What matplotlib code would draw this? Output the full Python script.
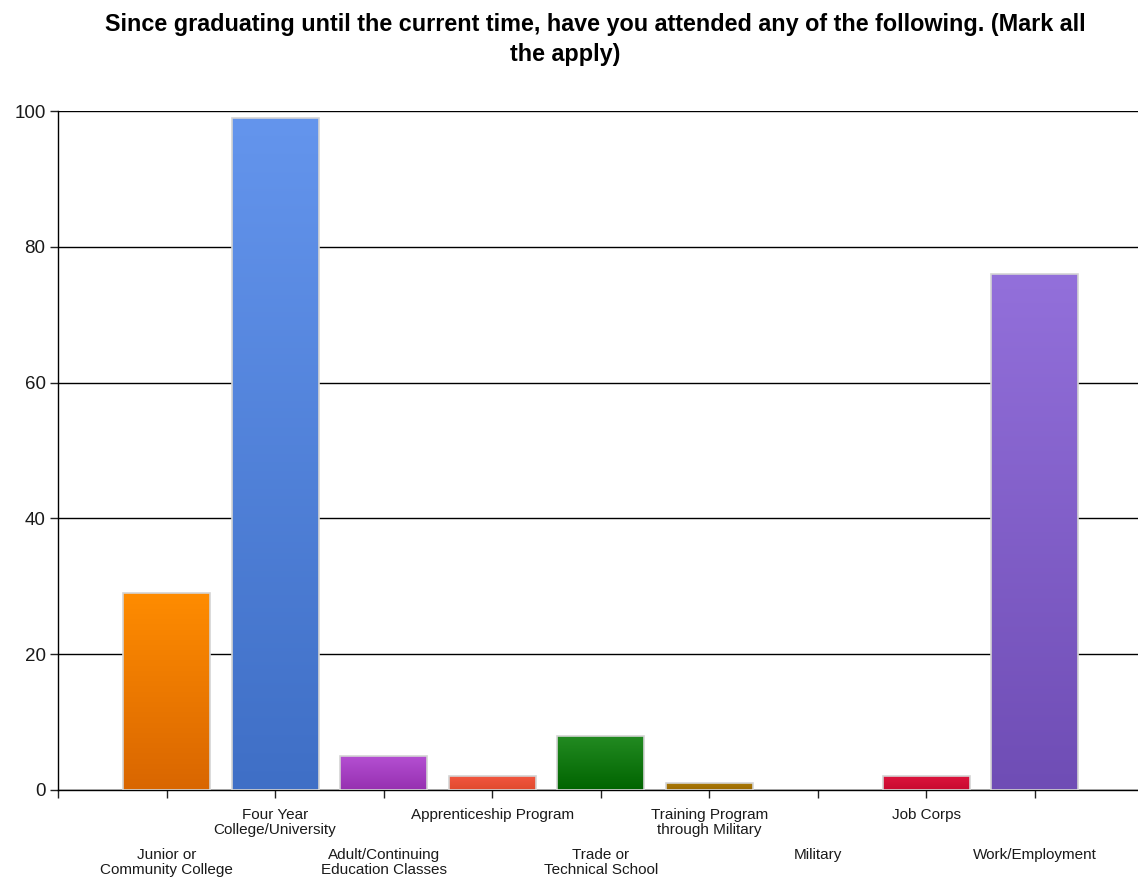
import matplotlib
matplotlib.use("Agg")
import matplotlib.pyplot as plt
import matplotlib.colors as mc
import numpy as np

plt.rcParams['font.family'] = ['Liberation Sans', 'DejaVu Sans']

categories = ["Junior or\nCommunity College", "Four Year\nCollege/University",
              "Adult/Continuing\nEducation Classes", "Apprenticeship Program",
              "Trade or\nTechnical School", "Training Program\nthrough Military",
              "Military", "Job Corps", "Work/Employment"]
counts = [29, 99, 5, 2, 8, 1, 0, 2, 76]
top_colors = ["#ff8c00", "#6495ed", "#b44fd2", "#f2573f", "#238b22",
              "#ab7807", "#c0c0c0", "#dc143c", "#9370db"]
bottom_colors = ["#d96600", "#3f6fc6", "#9630b0", "#e04a2e", "#006400",
                 "#9a6a00", "#a0a0a0", "#c80a30", "#6f4db5"]
yticks = [0, 20, 40, 60, 80, 100]

title_lines = ["Since graduating until the current time, have you attended any of the following. (Mark all",
               "the apply)"]


def main():
    fig = plt.figure(figsize=(11.38, 8.77), dpi=100)
    ax = fig.add_axes([58 / 1138, 1 - 790 / 877, 1 - 58 / 1138, (790 - 111) / 877])

    xs = np.arange(1, len(counts) + 1)
    bars = ax.bar(xs, counts, width=0.8, facecolor='none', edgecolor='#d4d4d4',
                  linewidth=1.2, zorder=3)

    # vertical gradient inside each bar, lighter at the top
    for bar, c_top, c_bot in zip(bars, top_colors, bottom_colors):
        if bar.get_height() <= 0:
            bar.set_linewidth(0)
            continue
        cmap = mc.LinearSegmentedColormap.from_list("g", [c_bot, c_top])
        grad = np.linspace(0, 1, 256).reshape(-1, 1)
        x0 = bar.get_x()
        im = ax.imshow(grad, cmap=cmap, origin='lower', aspect='auto',
                       extent=[x0, x0 + bar.get_width(), 0, bar.get_height()],
                       zorder=2)
        im.set_clip_path(bar)

    ax.set_xlim(0, 9.95)
    ax.set_ylim(0, 100)
    ax.set_yticks(yticks)
    ax.set_xticks(np.arange(0, len(counts) + 1))
    ax.set_xticklabels([])
    ax.yaxis.grid(True, color='black', linewidth=1.0, zorder=0)
    ax.set_axisbelow(True)

    for side in ['top', 'right']:
        ax.spines[side].set_visible(False)
    ax.spines['left'].set_linewidth(1.0)
    ax.spines['bottom'].set_linewidth(1.0)
    ax.tick_params(axis='both', direction='out', length=6, width=1.0, color='#222222')
    ax.tick_params(axis='y', labelsize=13.5, labelcolor='#1a1a1a', pad=3)

    # category names staggered on two rows under the axis
    for i, (x, name) in enumerate(zip(xs, categories)):
        offset = -13 if i % 2 == 1 else -42
        ax.annotate(name, xy=(x, 0), xycoords='data', xytext=(0, offset),
                    textcoords='offset points', ha='center', va='top',
                    multialignment='center', fontsize=11, linespacing=1.05,
                    color='#1a1a1a', annotation_clip=False)

    # title wraps onto a second line
    fig.text(595 / 1138, 1 - 24 / 877, title_lines[0], ha='center', va='center',
             fontsize=16.8, fontweight='bold')
    fig.text(565 / 1138, 1 - 54 / 877, title_lines[1], ha='center', va='center',
             fontsize=16.8, fontweight='bold')

    fig.savefig("out.png", dpi=100)


if __name__ == "__main__":
    main()
